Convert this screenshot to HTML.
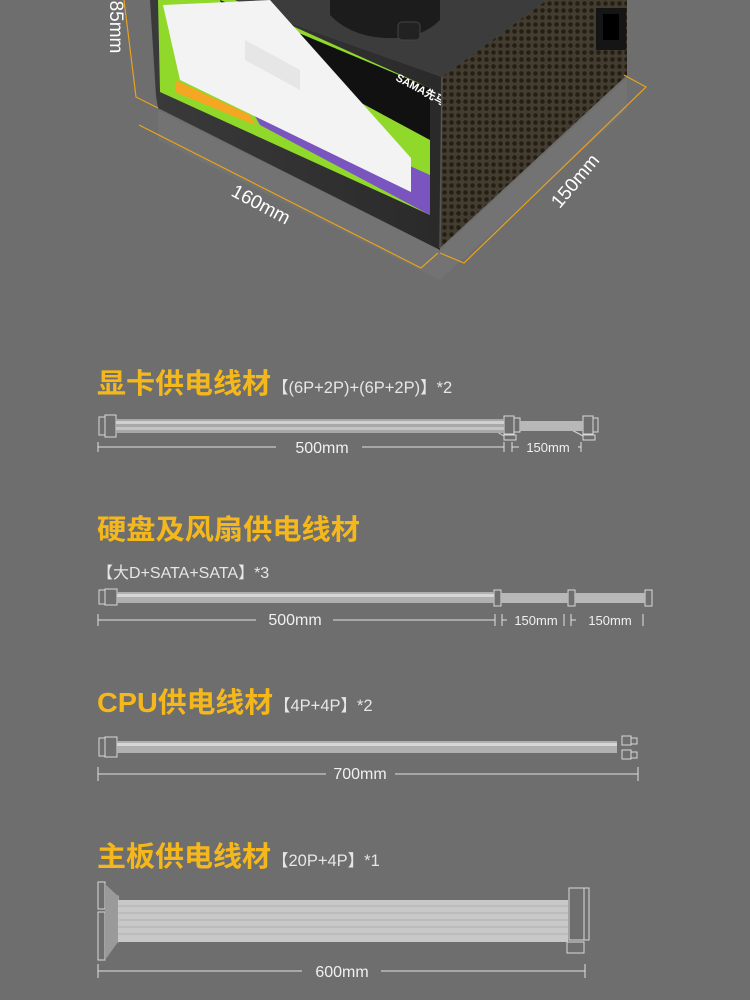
<!DOCTYPE html>
<html><head><meta charset="utf-8">
<style>
html,body{margin:0;padding:0;background:#6e6e6e;}
svg{display:block}
text{font-family:"Liberation Sans","Noto Sans CJK SC",sans-serif;}
</style></head><body>
<svg width="750" height="1000" viewBox="0 0 750 1000" xmlns="http://www.w3.org/2000/svg">
<defs>
<pattern id="holes" width="7" height="7" patternUnits="userSpaceOnUse">
<rect width="7" height="7" fill="#333"/><circle cx="3.5" cy="3.5" r="2.3" fill="#111"/>
</pattern>
<linearGradient id="front" x1="0" y1="0" x2="1" y2="0"><stop offset="0" stop-color="#3a3a3a"/><stop offset="1" stop-color="#2a2a2a"/></linearGradient>
</defs>
<rect width="750" height="1000" fill="#6e6e6e"/>

<polygon points="158,110 440,250 627,78 627,110 440,280 158,140" fill="#767676" opacity="0.6"/>

<polygon points="225,0 547,0 442,77" fill="#3c3c3c"/>
<path d="M330,0 L440,0 L440,20 Q420,40 385,38 Q350,36 330,15 Z" fill="#1c1c1c"/>
<rect x="398" y="22" width="22" height="18" rx="4" fill="#222" stroke="#444"/>
<polygon points="150,0 225,0 442,77 440,250 158,108 156,96" fill="url(#front)"/>
<polygon points="158,0 235,0 430,88 430,215 160,92" fill="#90d82a"/>
<polygon points="220,0 430,88 430,140 300,70 230,25" fill="#111"/>
<polygon points="240,90 430,175 430,215 260,125" fill="#7a55c0"/>
<polygon points="175,80 250,115 255,125 175,92" fill="#f5a623"/>
<polygon points="163,5 270,0 411,158 411,192 180,80" fill="#f3f3f3"/>
<polygon points="245,40 300,70 300,90 245,60" fill="#ddd" opacity="0.6"/>
<text x="395" y="80" font-size="11" font-weight="bold" fill="#fff" transform="rotate(28 395 80)">SAMA先马</text>
<polygon points="442,77 547,0 627,0 627,75 440,248" fill="url(#holes)"/>
<polygon points="442,77 547,0 627,0 627,75 440,248" fill="#c08020" opacity="0.12"/>
<rect x="596" y="8" width="30" height="42" fill="#151515"/>
<rect x="603" y="14" width="16" height="26" fill="#000"/>
<line x1="442" y1="77" x2="440" y2="248" stroke="#555" stroke-width="1.5"/>

<g stroke="#e8a21c" stroke-width="1.2" fill="none">
<polyline points="124,0 136,97 158,108"/>
<polyline points="139,125 421,268 438,253"/>
<polyline points="440,253 464,263 646,87 624,75"/>
</g>
<text x="110" y="27" font-size="19" fill="#fff" transform="rotate(90 110 27)" text-anchor="middle">85mm</text>
<text x="258" y="210" font-size="19" fill="#fff" transform="rotate(28 258 210)" text-anchor="middle">160mm</text>
<text x="580" y="185" font-size="19" fill="#fff" transform="rotate(-50 580 185)" text-anchor="middle">150mm</text>

<!-- Section 1 -->
<text x="97" y="393" font-size="28" font-weight="bold" fill="#f5b81c" textLength="174" lengthAdjust="spacingAndGlyphs">显卡供电线材</text>
<text x="272" y="393" font-size="16.5" fill="#e6e6e6">【(6P+2P)+(6P+2P)】*2</text>
<g stroke="#d8d8d8" fill="none" stroke-width="1">
<rect x="99" y="417" width="6" height="18"/><rect x="105" y="415" width="11" height="22"/>
<rect x="504" y="416" width="10" height="18"/><rect x="514" y="418" width="6" height="14"/>
<rect x="504" y="435" width="12" height="5"/>
<rect x="583" y="416" width="10" height="18"/><rect x="593" y="418" width="5" height="14"/>
<rect x="583" y="435" width="12" height="5"/>
<line x1="490" y1="428" x2="504" y2="436"/><line x1="568" y1="428" x2="583" y2="436"/>
</g>
<rect x="116" y="419" width="388" height="14" fill="#a8a8a8"/>
<rect x="116" y="421" width="388" height="3" fill="#d0d0d0"/><rect x="116" y="427" width="388" height="3" fill="#c4c4c4"/>
<rect x="520" y="421" width="63" height="10" fill="#b8b8b8"/>
<g stroke="#e0e0e0" stroke-width="1">
<line x1="98" y1="447" x2="276" y2="447"/><line x1="98" y1="442" x2="98" y2="452"/>
<line x1="362" y1="447" x2="504" y2="447"/><line x1="504" y1="442" x2="504" y2="452"/>
<line x1="512" y1="442" x2="512" y2="452"/><line x1="512" y1="447" x2="519" y2="447"/>
<line x1="578" y1="447" x2="581" y2="447"/><line x1="581" y1="442" x2="581" y2="452"/>
</g>
<text x="322" y="453" font-size="16" fill="#f0f0f0" text-anchor="middle">500mm</text>
<text x="548" y="452" font-size="13" fill="#f0f0f0" text-anchor="middle">150mm</text>

<!-- Section 2 -->
<text x="97" y="539" font-size="28" font-weight="bold" fill="#f5b81c" textLength="263" lengthAdjust="spacingAndGlyphs">硬盘及风扇供电线材</text>
<text x="97" y="578" font-size="16" fill="#e6e6e6">【大D+SATA+SATA】*3</text>
<g stroke="#d8d8d8" fill="none" stroke-width="1">
<rect x="99" y="590" width="6" height="14"/><rect x="105" y="589" width="12" height="16"/>
<rect x="494" y="590" width="7" height="16"/><rect x="568" y="590" width="7" height="16"/><rect x="645" y="590" width="7" height="16"/>
</g>
<rect x="117" y="592" width="377" height="11" fill="#b0b0b0"/><rect x="117" y="594" width="377" height="3" fill="#d6d6d6"/>
<rect x="501" y="593" width="67" height="10" fill="#b8b8b8"/><rect x="575" y="593" width="70" height="10" fill="#b8b8b8"/>
<g stroke="#e0e0e0" stroke-width="1">
<line x1="98" y1="620" x2="256" y2="620"/><line x1="98" y1="614" x2="98" y2="626"/>
<line x1="333" y1="620" x2="495" y2="620"/><line x1="495" y1="614" x2="495" y2="626"/>
<line x1="502" y1="614" x2="502" y2="626"/><line x1="502" y1="620" x2="507" y2="620"/>
<line x1="564" y1="614" x2="564" y2="626"/>
<line x1="571" y1="614" x2="571" y2="626"/><line x1="571" y1="620" x2="576" y2="620"/>
<line x1="643" y1="614" x2="643" y2="626"/>
</g>
<text x="295" y="625" font-size="16" fill="#f0f0f0" text-anchor="middle">500mm</text>
<text x="536" y="625" font-size="13" fill="#f0f0f0" text-anchor="middle">150mm</text>
<text x="610" y="625" font-size="13" fill="#f0f0f0" text-anchor="middle">150mm</text>

<!-- Section 3 -->
<text x="97" y="712" font-size="28" font-weight="bold" fill="#f5b81c" textLength="176" lengthAdjust="spacingAndGlyphs">CPU供电线材</text>
<text x="274" y="711" font-size="16.5" fill="#e6e6e6">【4P+4P】*2</text>
<g stroke="#d8d8d8" fill="none" stroke-width="1">
<rect x="99" y="738" width="6" height="18"/><rect x="105" y="737" width="12" height="20"/>
<rect x="622" y="736" width="9" height="9"/><rect x="631" y="738" width="6" height="6"/>
<rect x="622" y="750" width="9" height="9"/><rect x="631" y="752" width="6" height="6"/>
</g>
<rect x="117" y="741" width="500" height="12" fill="#b0b0b0"/><rect x="117" y="743" width="500" height="3" fill="#d6d6d6"/>
<g stroke="#e0e0e0" stroke-width="1">
<line x1="98" y1="774" x2="326" y2="774"/><line x1="98" y1="767" x2="98" y2="781"/>
<line x1="395" y1="774" x2="638" y2="774"/><line x1="638" y1="767" x2="638" y2="781"/>
</g>
<text x="360" y="779" font-size="16" fill="#f0f0f0" text-anchor="middle">700mm</text>

<!-- Section 4 -->
<text x="97" y="866" font-size="28" font-weight="bold" fill="#f5b81c" textLength="174" lengthAdjust="spacingAndGlyphs">主板供电线材</text>
<text x="272" y="866" font-size="16.5" fill="#e6e6e6">【20P+4P】*1</text>
<g stroke="#d8d8d8" fill="none" stroke-width="1">
<rect x="98" y="882" width="7" height="27"/><rect x="98" y="912" width="7" height="48"/>
<rect x="115" y="896" width="3" height="46"/>
<rect x="569" y="888" width="15" height="52"/><rect x="584" y="888" width="5" height="52"/>
<rect x="567" y="942" width="17" height="11"/>
</g>
<polygon points="105,884 118,896 118,942 105,960" fill="#9a9a9a"/>
<rect x="118" y="900" width="450" height="42" fill="#c8c8c8"/>
<g stroke="#b0b0b0" stroke-width="1">
<line x1="118" y1="906" x2="568" y2="906"/><line x1="118" y1="913" x2="568" y2="913"/><line x1="118" y1="920" x2="568" y2="920"/><line x1="118" y1="927" x2="568" y2="927"/><line x1="118" y1="934" x2="568" y2="934"/>
</g>
<g stroke="#e0e0e0" stroke-width="1">
<line x1="98" y1="971" x2="302" y2="971"/><line x1="98" y1="964" x2="98" y2="978"/>
<line x1="381" y1="971" x2="585" y2="971"/><line x1="585" y1="964" x2="585" y2="978"/>
</g>
<text x="342" y="977" font-size="16" fill="#f0f0f0" text-anchor="middle">600mm</text>
</svg>
</body></html>
